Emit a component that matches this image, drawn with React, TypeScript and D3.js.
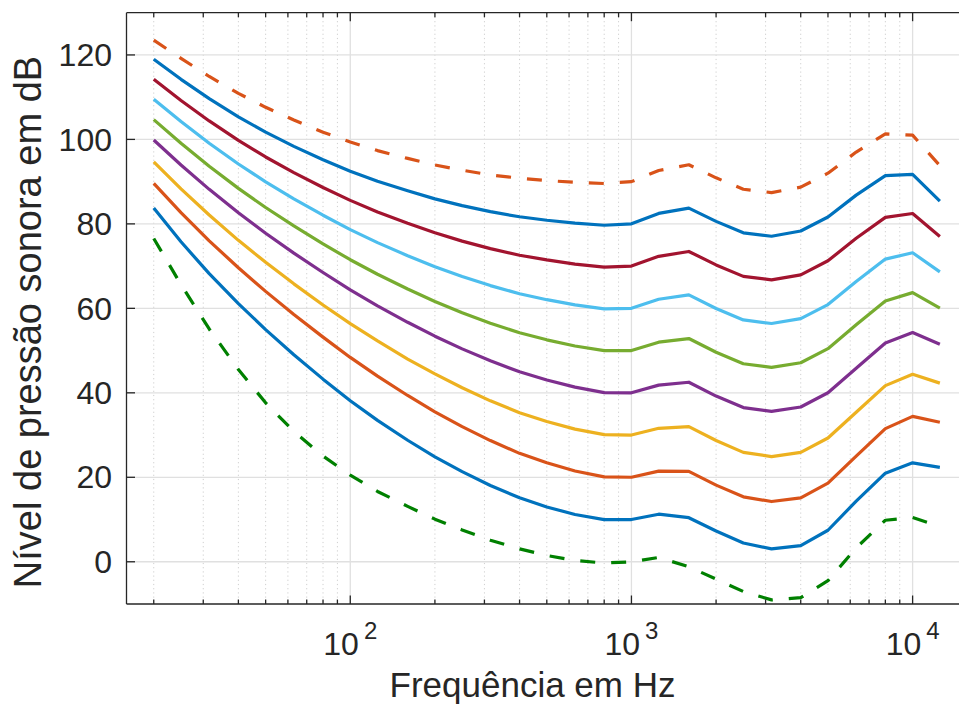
import React from "react";
import * as d3 from "d3";

const freqs = [20, 25, 31.5, 40, 50, 63, 80, 100, 125, 160, 200, 250, 315, 400, 500, 630, 800, 1000, 1250, 1600, 2000, 2500, 3150, 4000, 5000, 6300, 8000, 10000, 12500];

const phon0 = [76.55, 65.62, 55.12, 45.53, 37.63, 30.86, 25.02, 20.51, 16.65, 13.12, 10.09, 7.54, 5.11, 3.06, 1.48, 0.3, -0.3, -0.01, 1.03, -1.19, -4.11, -7.05, -9.03, -8.49, -4.48, 3.28, 9.83, 10.48, 8.38];
const phon10 = [83.75, 75.76, 68.21, 61.14, 54.96, 49.01, 43.24, 38.13, 33.48, 28.77, 24.84, 21.33, 18.05, 15.14, 12.98, 11.18, 9.99, 10.0, 11.26, 10.43, 7.27, 4.45, 3.04, 3.8, 7.46, 14.35, 20.98, 23.43, 22.33];
const phon20 = [89.58, 82.65, 75.98, 69.62, 64.02, 58.55, 53.19, 48.38, 43.94, 39.37, 35.51, 31.99, 28.69, 25.67, 23.43, 21.48, 20.1, 20.01, 21.46, 21.4, 18.15, 15.38, 14.26, 15.14, 18.63, 25.02, 31.52, 34.43, 33.04];
const phon30 = [94.7, 88.3, 82.1, 76.1, 70.9, 65.8, 60.8, 56.4, 52.3, 48.0, 44.5, 41.2, 38.1, 35.3, 33.2, 31.4, 30.1, 30.0, 31.6, 32.0, 28.7, 25.9, 24.9, 25.9, 29.3, 35.4, 41.7, 44.4, 42.3];
const phon40 = [99.85, 93.94, 88.17, 82.63, 77.78, 73.08, 68.48, 64.37, 60.59, 56.7, 53.41, 50.4, 47.58, 44.98, 43.05, 41.34, 40.06, 40.01, 41.82, 42.51, 39.23, 36.51, 35.61, 36.65, 40.01, 45.83, 51.8, 54.28, 51.49];
const phon50 = [104.68, 99.09, 93.63, 88.41, 83.87, 79.51, 75.27, 71.51, 68.08, 64.59, 61.64, 58.97, 56.49, 54.22, 52.55, 51.08, 49.98, 50.01, 51.99, 52.85, 49.6, 46.89, 46.02, 47.11, 50.45, 56.1, 61.73, 63.72, 60.06];
const phon60 = [109.51, 104.23, 99.08, 94.18, 89.96, 85.94, 82.05, 78.65, 75.56, 72.47, 69.86, 67.53, 65.39, 63.45, 62.05, 60.81, 59.89, 60.01, 62.15, 63.19, 59.96, 57.26, 56.42, 57.57, 60.89, 66.36, 71.66, 73.16, 68.63];
const phon70 = [114.25, 109.23, 104.37, 99.76, 95.84, 92.15, 88.61, 85.57, 82.83, 80.15, 77.89, 75.92, 74.14, 72.57, 71.46, 70.49, 69.78, 70.01, 72.32, 73.47, 70.28, 67.57, 66.75, 67.94, 71.26, 76.59, 81.54, 82.45, 77.02];
const phon80 = [118.99, 114.23, 109.65, 105.34, 101.72, 98.36, 95.17, 92.48, 90.09, 87.82, 85.92, 84.31, 82.89, 81.68, 80.86, 80.17, 79.67, 80.01, 82.48, 83.74, 80.59, 77.88, 77.07, 78.31, 81.62, 86.81, 91.41, 91.74, 85.41];
const phon90 = [123.5, 119.2, 114.9, 110.9, 107.6, 104.6, 101.7, 99.4, 97.35, 95.5, 93.95, 92.7, 91.6, 90.8, 90.26, 89.85, 89.56, 90.0, 92.64, 94.0, 90.9, 88.2, 87.4, 88.7, 92.0, 97.0, 101.3, 101.0, 93.8];

const yTicks = [0, 20, 40, 60, 80, 100, 120];
const xMajor = [100, 1000, 10000];
const xMajorExp = ["2", "3", "4"];

const series = [
  { values: phon10, color: "#0072BD", dashed: false },
  { values: phon20, color: "#D95319", dashed: false },
  { values: phon30, color: "#EDB120", dashed: false },
  { values: phon40, color: "#7E2F8E", dashed: false },
  { values: phon50, color: "#77AC30", dashed: false },
  { values: phon60, color: "#4DBEEE", dashed: false },
  { values: phon70, color: "#A2142F", dashed: false },
  { values: phon80, color: "#0072BD", dashed: false },
  { values: phon90, color: "#D95319", dashed: true },
  { values: phon0, color: "#008000", dashed: true },
];

export default function App() {
  const W = 959;
  const H = 707;
  const left = 126.5;
  const right = 970;
  const top = 12.7;
  const bottom = 604;
  const x = d3.scaleLog().domain([16, 16000]).range([left, right]);
  const y = d3.scaleLinear().domain([-10, 130]).range([bottom, top]);

  const xMinor: number[] = [];
  [10, 100, 1000, 10000].forEach((d) => {
    for (let k = 2; k <= 9; k++) {
      const v = d * k;
      if (v > 16 && v < 16000) xMinor.push(v);
    }
  });

  const line = d3
    .line<number>()
    .x((_, i) => x(freqs[i]))
    .y((d) => y(d));

  const axisColor = "#262626";
  const font = "'Liberation Sans', Arial, Helvetica, sans-serif";

  return (
    <svg
      width={W}
      height={H}
      style={{ position: "absolute", left: 0, top: 0, background: "#fff" }}
      fontFamily={font}
    >
      <rect x={0} y={0} width={W} height={H} fill="#fff" />
      <defs>
        <clipPath id="plotclip">
          <rect x={left} y={top} width={right - left} height={bottom - top} />
        </clipPath>
      </defs>
      {/* minor grid */}
      {xMinor.map((v) => (
        <line
          key={"mg" + v}
          x1={x(v)}
          x2={x(v)}
          y1={top}
          y2={bottom}
          stroke="#cfcfcf"
          strokeWidth={1}
          strokeDasharray="1.2,3"
        />
      ))}
      {/* major grid */}
      {xMajor.map((v) => (
        <line key={"xg" + v} x1={x(v)} x2={x(v)} y1={top} y2={bottom} stroke="#e0e0e0" strokeWidth={1.3} />
      ))}
      {yTicks.map((v) => (
        <line key={"yg" + v} x1={left} x2={right} y1={y(v)} y2={y(v)} stroke="#e0e0e0" strokeWidth={1.3} />
      ))}
      {/* data */}
      <g clipPath="url(#plotclip)">
        {series.map((s, i) => (
          <path
            key={"s" + i}
            d={line(s.values) || ""}
            fill="none"
            stroke={s.color}
            strokeWidth={3.2}
            strokeDasharray={s.dashed ? "15,16" : undefined}
            strokeLinejoin="round"
          />
        ))}
      </g>
      {/* axes box */}
      <line x1={left} x2={left} y1={top} y2={bottom} stroke={axisColor} strokeWidth={1.3} />
      <line x1={left} x2={right} y1={bottom} y2={bottom} stroke={axisColor} strokeWidth={1.3} />
      <line x1={left} x2={right} y1={top} y2={top} stroke={axisColor} strokeWidth={1.3} />
      {/* y ticks */}
      {yTicks.map((v) => (
        <g key={"yt" + v}>
          <line x1={left} x2={left + 8.5} y1={y(v)} y2={y(v)} stroke={axisColor} strokeWidth={1.3} />
          <text x={112} y={y(v)} dy="0.35em" textAnchor="end" fontSize={32} fill={axisColor}>
            {v}
          </text>
        </g>
      ))}
      {/* x ticks */}
      {xMinor.map((v) => (
        <g key={"xmt" + v}>
          <line x1={x(v)} x2={x(v)} y1={bottom} y2={bottom - 4.5} stroke={axisColor} strokeWidth={1.3} />
          <line x1={x(v)} x2={x(v)} y1={top} y2={top + 4.5} stroke={axisColor} strokeWidth={1.3} />
        </g>
      ))}
      {xMajor.map((v, i) => (
        <g key={"xt" + v}>
          <line x1={x(v)} x2={x(v)} y1={bottom} y2={bottom - 8.5} stroke={axisColor} strokeWidth={1.3} />
          <line x1={x(v)} x2={x(v)} y1={top} y2={top + 8.5} stroke={axisColor} strokeWidth={1.3} />
          <text x={x(v)} y={655} textAnchor="middle" fontSize={32} fill={axisColor}>
            10
            <tspan dx={5} dy={-16} fontSize={24}>
              {xMajorExp[i]}
            </tspan>
          </text>
        </g>
      ))}
      {/* labels */}
      <text x={532.5} y={697} textAnchor="middle" fontSize={35} fill={axisColor}>
        Frequência em Hz
      </text>
      <text
        transform={`translate(41, 322) rotate(-90)`}
        textAnchor="middle"
        fontSize={38}
        fill={axisColor}
      >
        Nível de pressão sonora em dB
      </text>
    </svg>
  );
}
